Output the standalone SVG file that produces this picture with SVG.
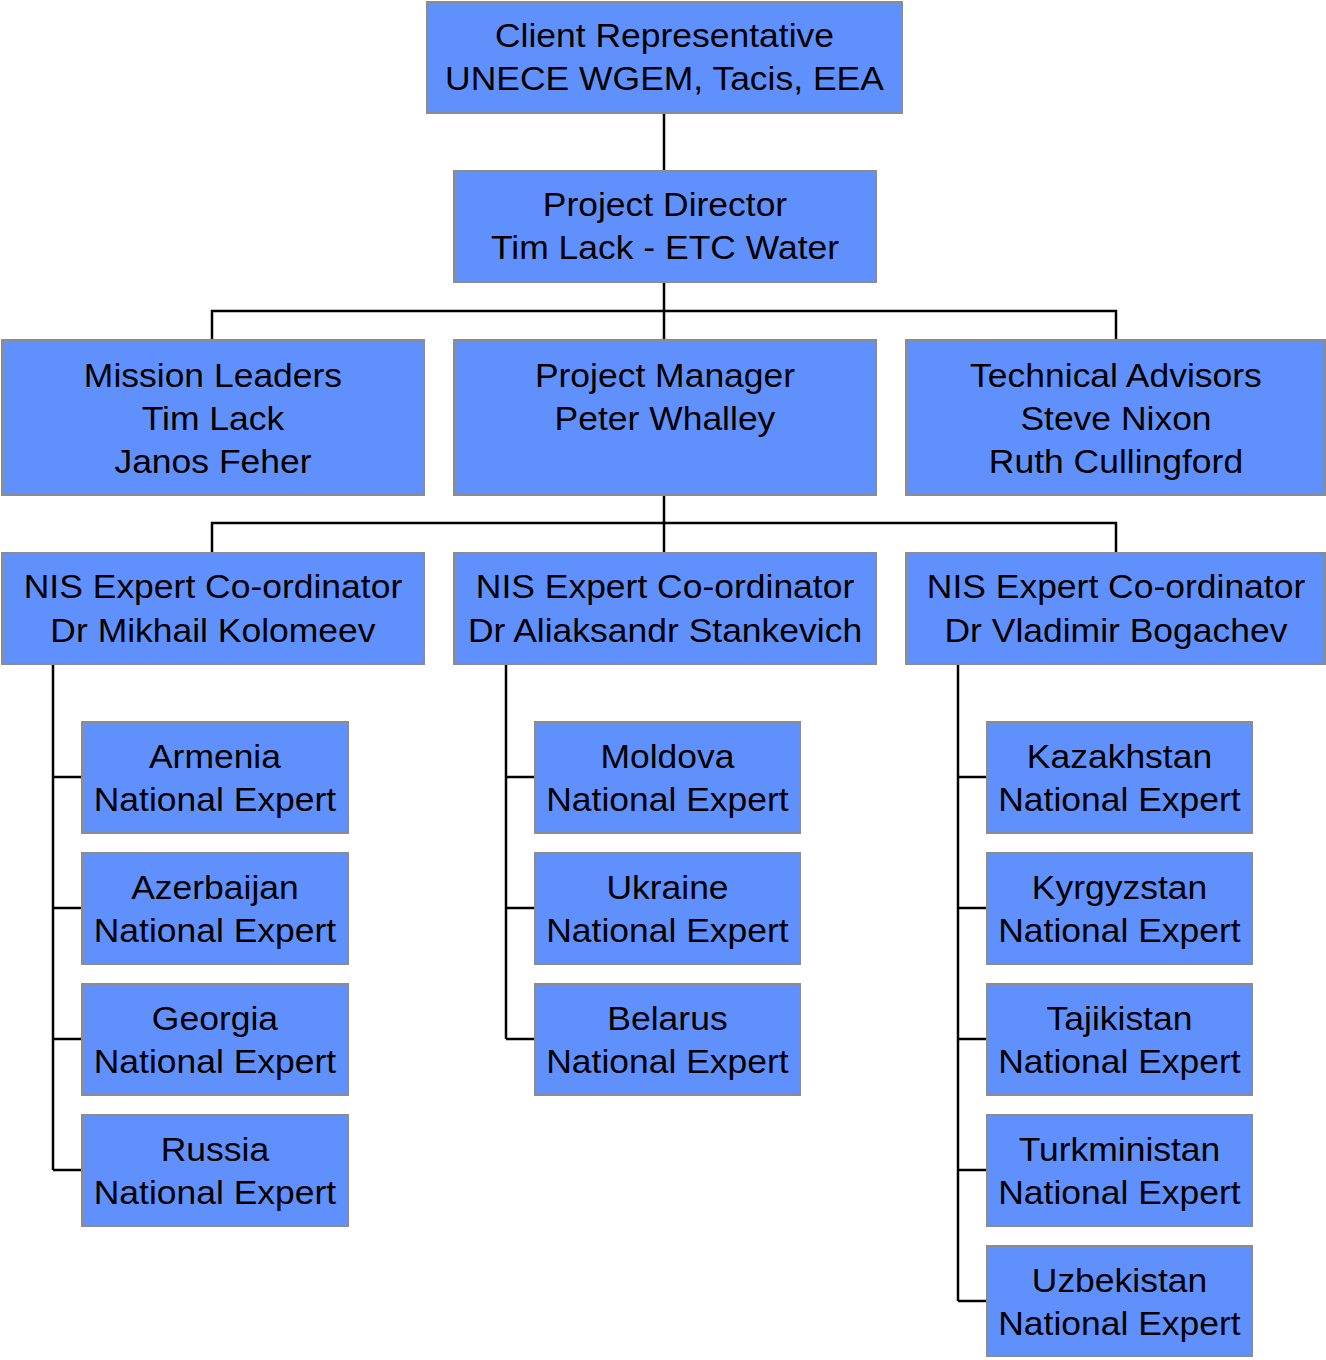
<svg xmlns="http://www.w3.org/2000/svg" width="1326" height="1360" viewBox="0 0 1326 1360">
<style>
.box{fill:#6090fc;stroke:#8c8c8c;stroke-width:2}
.t{font-family:"Liberation Sans",Arial,sans-serif;font-size:33px;fill:#000;text-anchor:middle;transform-box:fill-box;transform-origin:center;transform:scaleX(1.075)}
.c{fill:none;stroke:#000;stroke-width:2.5}
</style>
<rect width="1326" height="1360" fill="#fff"/>
<g id="connectors">
<path class="c" d="M664 113V171M664 282V340M212 340V311H1116V340M664 495V553M212 553V523H1116V553"/>
<path class="c" d="M53 664V1170M53 777H82M53 908H82M53 1039H82M53 1170H82"/>
<path class="c" d="M506 664V1039M506 777H535M506 908H535M506 1039H535"/>
<path class="c" d="M958 664V1301M958 777H987M958 908H987M958 1039H987M958 1170H987M958 1301H987"/>
</g>
<g id="client"><rect class="box" x="427" y="2" width="475" height="111"/><text class="t" x="664.5" y="47">Client Representative</text><text class="t" x="664.5" y="90">UNECE WGEM, Tacis, EEA</text></g>
<g id="director"><rect class="box" x="454" y="171" width="422" height="111"/><text class="t" x="665" y="216">Project Director</text><text class="t" x="665" y="259">Tim Lack - ETC Water</text></g>
<g id="mission"><rect class="box" x="2" y="340" width="422" height="155"/><text class="t" x="213" y="387">Mission Leaders</text><text class="t" x="213" y="430">Tim Lack</text><text class="t" x="213" y="473">Janos Feher</text></g>
<g id="manager"><rect class="box" x="454" y="340" width="422" height="155"/><text class="t" x="665" y="387">Project Manager</text><text class="t" x="665" y="430">Peter Whalley</text></g>
<g id="advisors"><rect class="box" x="906" y="340" width="419" height="155"/><text class="t" x="1116" y="387">Technical Advisors</text><text class="t" x="1116" y="430">Steve Nixon</text><text class="t" x="1116" y="473">Ruth Cullingford</text></g>
<g id="coord1"><rect class="box" x="2" y="553" width="422" height="111"/><text class="t" x="213" y="598">NIS Expert Co-ordinator</text><text class="t" x="213" y="642">Dr Mikhail Kolomeev</text></g>
<g id="coord2"><rect class="box" x="454" y="553" width="422" height="111"/><text class="t" x="665" y="598">NIS Expert Co-ordinator</text><text class="t" x="665" y="642">Dr Aliaksandr Stankevich</text></g>
<g id="coord3"><rect class="box" x="906" y="553" width="419" height="111"/><text class="t" x="1116" y="598">NIS Expert Co-ordinator</text><text class="t" x="1116" y="642">Dr Vladimir Bogachev</text></g>
<g id="armenia"><rect class="box" x="82" y="722" width="266" height="111"/><text class="t" x="215" y="768">Armenia</text><text class="t" x="215" y="811">National Expert</text></g>
<g id="azerbaijan"><rect class="box" x="82" y="853" width="266" height="111"/><text class="t" x="215" y="899">Azerbaijan</text><text class="t" x="215" y="942">National Expert</text></g>
<g id="georgia"><rect class="box" x="82" y="984" width="266" height="111"/><text class="t" x="215" y="1030">Georgia</text><text class="t" x="215" y="1073">National Expert</text></g>
<g id="russia"><rect class="box" x="82" y="1115" width="266" height="111"/><text class="t" x="215" y="1161">Russia</text><text class="t" x="215" y="1204">National Expert</text></g>
<g id="moldova"><rect class="box" x="535" y="722" width="265" height="111"/><text class="t" x="667.5" y="768">Moldova</text><text class="t" x="667.5" y="811">National Expert</text></g>
<g id="ukraine"><rect class="box" x="535" y="853" width="265" height="111"/><text class="t" x="667.5" y="899">Ukraine</text><text class="t" x="667.5" y="942">National Expert</text></g>
<g id="belarus"><rect class="box" x="535" y="984" width="265" height="111"/><text class="t" x="667.5" y="1030">Belarus</text><text class="t" x="667.5" y="1073">National Expert</text></g>
<g id="kazakhstan"><rect class="box" x="987" y="722" width="265" height="111"/><text class="t" x="1119.5" y="768">Kazakhstan</text><text class="t" x="1119.5" y="811">National Expert</text></g>
<g id="kyrgyzstan"><rect class="box" x="987" y="853" width="265" height="111"/><text class="t" x="1119.5" y="899">Kyrgyzstan</text><text class="t" x="1119.5" y="942">National Expert</text></g>
<g id="tajikistan"><rect class="box" x="987" y="984" width="265" height="111"/><text class="t" x="1119.5" y="1030">Tajikistan</text><text class="t" x="1119.5" y="1073">National Expert</text></g>
<g id="turkministan"><rect class="box" x="987" y="1115" width="265" height="111"/><text class="t" x="1119.5" y="1161">Turkministan</text><text class="t" x="1119.5" y="1204">National Expert</text></g>
<g id="uzbekistan"><rect class="box" x="987" y="1246" width="265" height="110"/><text class="t" x="1119.5" y="1292">Uzbekistan</text><text class="t" x="1119.5" y="1335">National Expert</text></g>
</svg>
